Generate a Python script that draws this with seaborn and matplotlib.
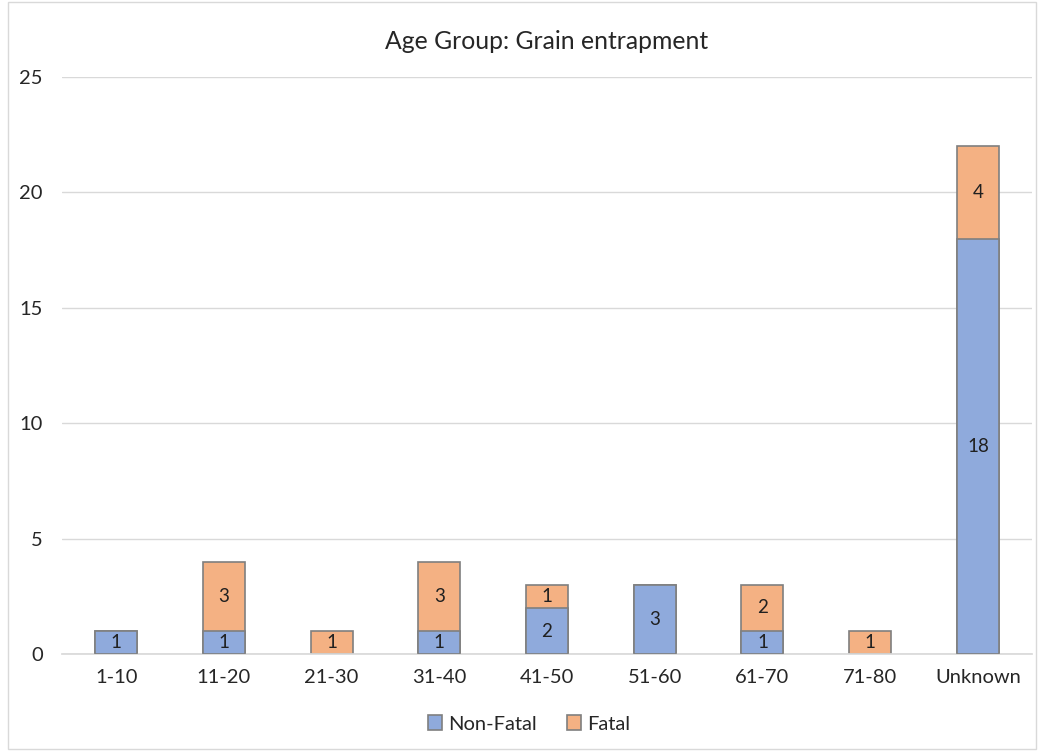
import numpy as np
import pandas as pd
import matplotlib
matplotlib.use('Agg')
import matplotlib.pyplot as plt
import seaborn as sns
from matplotlib.patches import Patch, Rectangle

age_groups = ['1-10', '11-20', '21-30', '31-40', '41-50', '51-60', '61-70', '71-80', 'Unknown']
non_fatal = [1, 1, 0, 1, 2, 3, 1, 0, 18]
fatal = [0, 3, 1, 3, 1, 0, 2, 1, 4]

BLUE = '#8FAADC'
ORANGE = '#F4B183'
EDGE = '#7F7F7F'
GRID = '#D9D9D9'

sns.set_theme(style='white')
plt.rcParams['font.family'] = ['Lato', 'DejaVu Sans']

df = pd.DataFrame({'group': age_groups, 'non_fatal': non_fatal, 'fatal': fatal})
df['total'] = df['non_fatal'] + df['fatal']

fig = plt.figure(figsize=(10.38, 7.51), dpi=100)
ax = fig.add_axes([0.060, 0.129, 0.934, 0.7685])

sns.barplot(data=df, x='group', y='total', color=ORANGE, saturation=1, width=0.39,
            edgecolor=EDGE, linewidth=1.2, ax=ax, zorder=2)
sns.barplot(data=df, x='group', y='non_fatal', color=BLUE, saturation=1, width=0.39,
            edgecolor=EDGE, linewidth=1.2, ax=ax, zorder=3)

# hide zero-height patches
for p in ax.patches:
  if p.get_height() == 0:
    p.set_visible(False)

for i, row in df.iterrows():
  if row['non_fatal'] > 0:
    ax.text(i, row['non_fatal'] / 2, str(row['non_fatal']), ha='center', va='center',
            fontsize=13.5, color='#202020', zorder=5)
  if row['fatal'] > 0:
    ax.text(i, row['non_fatal'] + row['fatal'] / 2, str(row['fatal']), ha='center', va='center',
            fontsize=13.5, color='#202020', zorder=5)

ax.set_ylim(0, 25)
ax.set_xlim(-0.5, len(age_groups) - 0.5)
ax.set_yticks([0, 5, 10, 15, 20, 25])
ax.yaxis.grid(True, color=GRID, linewidth=1)
ax.set_axisbelow(True)
for s in ['top', 'right', 'left']:
  ax.spines[s].set_visible(False)
ax.spines['bottom'].set_color(GRID)
ax.tick_params(axis='both', length=0, labelsize=14.5, colors='#262626')
ax.tick_params(axis='x', pad=11)
ax.tick_params(axis='y', pad=14)
ax.set_xlabel('')
ax.set_ylabel('')
ax.set_title('Age Group: Grain entrapment', fontsize=17.8, color='#262626', pad=20)

handles = [Patch(facecolor=BLUE, edgecolor=EDGE, linewidth=1.2, label='Non-Fatal'),
           Patch(facecolor=ORANGE, edgecolor=EDGE, linewidth=1.2, label='Fatal')]
fig.legend(handles=handles, loc='center', bbox_to_anchor=(0.51, 0.036), ncol=2, frameon=False,
           fontsize=14.5, handlelength=0.7, handleheight=0.7, handletextpad=0.3, columnspacing=1.5)

fig.patches.append(Rectangle((0.008, 0.003), 0.99, 0.994, transform=fig.transFigure,
                             fill=False, edgecolor=GRID, linewidth=1))

fig.savefig('out.png', dpi=100)
